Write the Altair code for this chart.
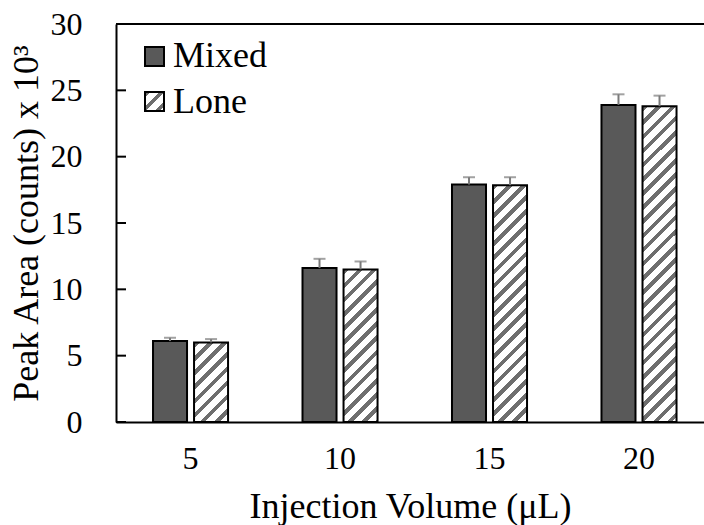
import altair as alt
import pandas as pd

# ---- data -------------------------------------------------------------
volumes = ["5", "10", "15", "20"]
series = ["Mixed", "Lone"]
mixed_area = [6.1, 11.6, 17.9, 23.9]
lone_area = [6.0, 11.5, 17.85, 23.8]
mixed_err = [0.25, 0.7, 0.55, 0.8]
lone_err = [0.25, 0.6, 0.6, 0.8]
y_ticks = [0, 5, 10, 15, 20, 25, 30]

# ---- layout -----------------------------------------------------------
PLOT_W = 588
PLOT_H = 398
Y_MAX = 30
BAR_W = 34          # bar width produced by the band settings below
FONT = "serif"
DARK = "#595959"
INK = "#6e6e6e"
ERR = "#7a7a7a"

df = pd.DataFrame({
    "volume": volumes * 2,
    "series": ["Mixed"] * len(volumes) + ["Lone"] * len(volumes),
    "area": mixed_area + lone_area,
    "err": mixed_err + lone_err,
})
df["upper"] = df["area"] + df["err"]


def hatch(h_px, w_px=BAR_W, period=10.0, line=4.0):
    """Diagonal '/' stripes as a hard-stop linear gradient (bbox units)."""
    span = w_px + h_px
    k = span / (w_px ** 2 + h_px ** 2)
    dt = period * 2 ** 0.5 / span
    lt = line * 2 ** 0.5 / span
    stops = []
    t = 0.0
    while t < 1.0:
        a, b, c = t, min(t + lt, 1.0), min(t + dt, 1.0)
        stops += [{"offset": a, "color": INK}, {"offset": b, "color": INK},
                  {"offset": b, "color": "white"}, {"offset": c, "color": "white"}]
        t += dt
    return {"gradient": "linear", "x1": 0, "y1": 0,
            "x2": w_px * k, "y2": h_px * k, "stops": stops}


y_scale = alt.Scale(domain=[0, Y_MAX], nice=False, zero=True)
y_axis = alt.Axis(
    title="Peak Area (counts) x 10³", values=y_ticks, grid=False,
    ticks=False, tickSize=0, domainColor="black", domainWidth=2,
    labelFont=FONT, labelFontSize=32, labelColor="black", labelPadding=34,
    titleFont=FONT, titleFontSize=36, titleFontWeight="normal",
    titleColor="black", titlePadding=5,
)


def y_enc(field):
    return alt.Y(field, type="quantitative", scale=y_scale, axis=y_axis)


x_enc = alt.X(
    "volume:N", sort=volumes,
    scale=alt.Scale(domain=volumes, paddingInner=0.498, paddingOuter=0.2157, align=0.574),
    axis=alt.Axis(
        title="Injection Volume (μL)", labelAngle=0, ticks=False, tickSize=0,
        domainColor="black", domainWidth=2, grid=False,
        labelFont=FONT, labelFontSize=32, labelColor="black", labelPadding=21,
        titleFont=FONT, titleFontSize=36, titleFontWeight="normal",
        titleColor="black", titlePadding=15,
    ),
)
off_enc = alt.XOffset("series:N", sort=series,
                      scale=alt.Scale(domain=series, paddingInner=0.171, paddingOuter=0))

base = alt.Chart(df).encode(x=x_enc, xOffset=off_enc)

layers = []

# Mixed: solid dark grey bars
layers.append(
    base.transform_filter(alt.datum.series == "Mixed")
    .mark_bar(fill=DARK, stroke="black", strokeWidth=2)
    .encode(y=y_enc("area"))
)

# Lone: hatched bars, one gradient per bar height
for v, a in zip(volumes, lone_area):
    layers.append(
        base.transform_filter((alt.datum.series == "Lone") & (alt.datum.volume == v))
        .mark_bar(fill=hatch(a / Y_MAX * PLOT_H), stroke="black", strokeWidth=2)
        .encode(y=y_enc("area"))
    )

# Positive error bars with caps
layers.append(
    base.mark_rule(color=ERR, strokeWidth=2).encode(y=y_enc("area"), y2="upper:Q")
)
layers.append(
    base.mark_tick(color=ERR, size=12, thickness=2).encode(y=y_enc("upper"))
)

# Inward tick marks on the value axis
tick_df = pd.DataFrame({"tick": y_ticks})
layers.append(
    alt.Chart(tick_df).mark_rule(color="black", strokeWidth=2)
    .encode(y=y_enc("tick"), x=alt.value(0), x2=alt.value(10))
)

# Frame line along the top of the plot
layers.append(
    alt.Chart(pd.DataFrame({"top": [Y_MAX]})).mark_rule(color="black", strokeWidth=2)
    .encode(y=y_enc("top"), x=alt.value(0), x2=alt.value(PLOT_W))
)

# Legend
leg_df = pd.DataFrame({"name": series})
layers.append(
    alt.Chart(leg_df).transform_filter(alt.datum.name == "Mixed")
    .mark_rect(fill=DARK, stroke="black", strokeWidth=2)
    .encode(x=alt.value(29), x2=alt.value(48), y=alt.value(23), y2=alt.value(42))
)
layers.append(
    alt.Chart(leg_df).transform_filter(alt.datum.name == "Lone")
    .mark_rect(fill=hatch(19, w_px=19, period=10.0, line=4.0), stroke="black", strokeWidth=2)
    .encode(x=alt.value(29), x2=alt.value(48), y=alt.value(68), y2=alt.value(87))
)
for name, yb in zip(series, [43, 89]):
    layers.append(
        alt.Chart(leg_df).transform_filter(alt.datum.name == name)
        .mark_text(font=FONT, fontSize=36, color="black", align="left", baseline="alphabetic")
        .encode(text="name:N", x=alt.value(57), y=alt.value(yb))
    )

chart = (
    alt.layer(*layers)
    .properties(
        width=PLOT_W, height=PLOT_H,
        autosize=alt.AutoSizeParams(type="none"),
        padding={"left": 116, "top": 24, "right": 0, "bottom": 103},
        background="white",
    )
    .configure_view(stroke=None)
)

chart.save("out.html", embed_options={"renderer": "svg", "actions": False})
